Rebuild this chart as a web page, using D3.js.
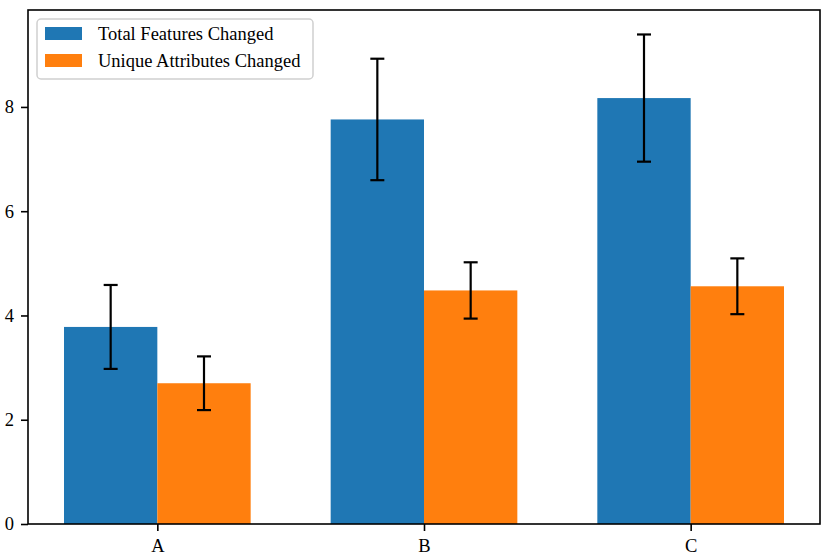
<!DOCTYPE html>
<html>
<head>
<meta charset="utf-8">
<script src="https://cdn.jsdelivr.net/npm/d3@7"></script>
<style>
  body { margin: 0; background: #fff; }
  svg text { font-family: "Liberation Serif", "Times New Roman", serif; fill: #000; }
</style>
</head>
<body>
<div id="chart"></div>
<script>
var categories = ['A', 'B', 'C'];
var seriesNames = ['Total Features Changed', 'Unique Attributes Changed'];
var totalValues = [3.78, 7.76, 8.17];
var totalErrors = [0.805, 1.165, 1.22];
var uniqueValues = [2.70, 4.48, 4.56];
var uniqueErrors = [0.515, 0.54, 0.535];
var yTicks = [0, 2, 4, 6, 8];

var colors = ['#1f77b4', '#ff7f0e'];

var W = 830, H = 560;
var margin = {top: 10, right: 10, bottom: 36, left: 28};
var width = W - margin.left - margin.right,
    height = H - margin.top - margin.bottom;

var barWidth = 0.35;

// build rows from the arrays
var series = [
  {name: seriesNames[0], values: totalValues, errors: totalErrors, offset: -barWidth / 2, color: colors[0]},
  {name: seriesNames[1], values: uniqueValues, errors: uniqueErrors, offset: barWidth / 2, color: colors[1]}
];

var bars = [];
series.forEach(function(s) {
  categories.forEach(function(c, i) {
    bars.push({cat: i, value: s.values[i], err: s.errors[i], offset: s.offset, color: s.color});
  });
});

// matplotlib-style 5% margins
var xMin = -barWidth, xMax = categories.length - 1 + barWidth;
var xPad = (xMax - xMin) * 0.05;
var yMax = d3.max(bars, function(b) { return b.value + b.err; }) * 1.05;

var x = d3.scaleLinear().domain([xMin - xPad, xMax + xPad]).range([0, width]);
var y = d3.scaleLinear().domain([0, yMax]).range([height, 0]);

var svg = d3.select('#chart')
            .append('svg')
            .attr('width', W)
            .attr('height', H)
            .append('g')
            .attr('transform', 'translate(' + margin.left + ',' + margin.top + ')');

svg.selectAll('.bar')
   .data(bars)
   .enter()
   .append('rect')
   .attr('class', 'bar')
   .attr('x', function(b) { return x(b.cat + b.offset - barWidth / 2); })
   .attr('width', function(b) { return x(barWidth) - x(0); })
   .attr('y', function(b) { return y(b.value); })
   .attr('height', function(b) { return y(0) - y(b.value); })
   .attr('fill', function(b) { return b.color; });

// error bars
var capHalf = 7;
var err = svg.selectAll('.err')
             .data(bars)
             .enter()
             .append('g')
             .attr('class', 'err')
             .attr('stroke', '#000')
             .attr('stroke-width', 2.2);

err.append('line')
   .attr('x1', function(b) { return x(b.cat + b.offset); })
   .attr('x2', function(b) { return x(b.cat + b.offset); })
   .attr('y1', function(b) { return y(b.value - b.err); })
   .attr('y2', function(b) { return y(b.value + b.err); });

[-1, 1].forEach(function(sign) {
  err.append('line')
     .attr('x1', function(b) { return x(b.cat + b.offset) - capHalf; })
     .attr('x2', function(b) { return x(b.cat + b.offset) + capHalf; })
     .attr('y1', function(b) { return y(b.value + sign * b.err); })
     .attr('y2', function(b) { return y(b.value + sign * b.err); });
});

// axes
var xAxis = d3.axisBottom(x)
              .tickValues(categories.map(function(c, i) { return i; }))
              .tickFormat(function(i) { return categories[i]; })
              .tickSize(7)
              .tickPadding(8);

var yAxis = d3.axisLeft(y)
              .tickValues(yTicks)
              .tickSize(7)
              .tickPadding(7);

svg.append('g')
   .attr('class', 'x axis')
   .attr('transform', 'translate(0,' + height + ')')
   .call(xAxis);

svg.append('g')
   .attr('class', 'y axis')
   .call(yAxis);

svg.selectAll('.axis .domain').remove();
svg.selectAll('.axis .tick line').attr('stroke', '#000').attr('stroke-width', 1.6);
svg.selectAll('.axis text').style('font-size', '18.5px');

// frame
svg.append('rect')
   .attr('x', 0)
   .attr('y', 0)
   .attr('width', width)
   .attr('height', height)
   .attr('fill', 'none')
   .attr('stroke', '#000')
   .attr('stroke-width', 1.6);

// legend
var legend = svg.append('g')
                .attr('class', 'legend')
                .attr('transform', 'translate(9,9)');

legend.append('rect')
      .attr('width', 276)
      .attr('height', 60)
      .attr('rx', 4)
      .attr('fill', '#fff')
      .attr('fill-opacity', 0.8)
      .attr('stroke', '#d0d0d0')
      .attr('stroke-width', 1.5);

var item = legend.selectAll('.item')
                 .data(series)
                 .enter()
                 .append('g')
                 .attr('class', 'item')
                 .attr('transform', function(d, i) { return 'translate(8,' + (8 + i * 27) + ')'; });

item.append('rect')
    .attr('width', 37)
    .attr('height', 13)
    .attr('fill', function(d) { return d.color; });

item.append('text')
    .attr('x', 53)
    .attr('y', 13)
    .style('font-size', '18.5px')
    .text(function(d) { return d.name; });
</script>
</body>
</html>
